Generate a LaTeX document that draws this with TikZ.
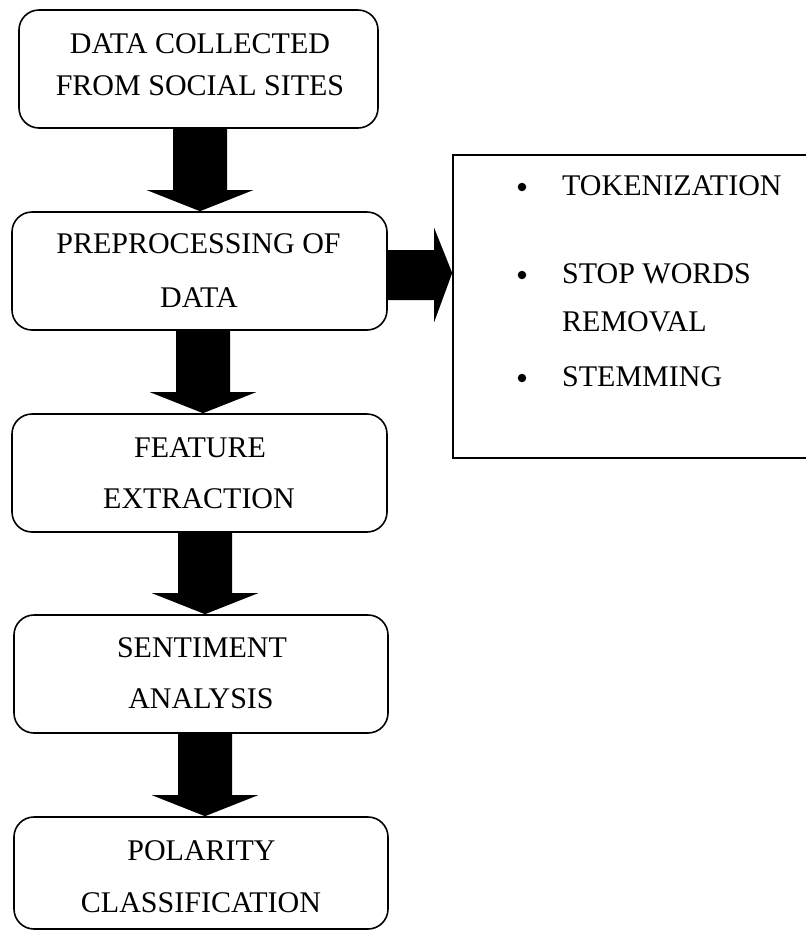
\documentclass[tikz,border=0pt]{standalone}
\usepackage{fontspec}
\setmainfont{Liberation Serif}
\usetikzlibrary{calc}
\tikzset{
  flowbox/.style={draw=black, line width=1.6pt, rounded corners=20pt, fill=white, inner sep=0pt},
  listbox/.style={draw=black, line width=1.6pt, fill=white, inner sep=0pt},
  boxtext/.style={anchor=base, inner sep=0pt, font=\fontsize{30pt}{36pt}\selectfont},
  listtext/.style={anchor=base west, inner sep=0pt, font=\fontsize{30pt}{36pt}\selectfont},
  dot/.style={circle, fill=black, inner sep=0pt, minimum size=8.5pt},
  fatarrow/.style={fill=black}
}
\newcommand\fatdown[3]{%
  \fill[fatarrow] let \p1=(#1.south), \p2=(#2.north) in
    (#3-27pt,\y1) -- (#3+27pt,\y1) -- (#3+27pt,\y2+21pt) -- (#3+53pt,\y2+21pt)
    -- (#3,\y2) -- (#3-53pt,\y2+21pt) -- (#3-27pt,\y2+21pt) -- cycle;}
\begin{document}
\begin{tikzpicture}[x=1pt,y=-1pt]
\clip (0,0) rectangle (806,930);
\fill[white] (0,0) rectangle (806,930);

% flow boxes
\node[flowbox, minimum width=359pt, minimum height=118pt] (b1) at (198.5,69) {};
\node[flowbox, minimum width=375pt, minimum height=118pt] (b2) at (199.5,271) {};
\node[flowbox, minimum width=375pt, minimum height=118pt] (b3) at (199.5,473) {};
\node[flowbox, minimum width=374pt, minimum height=118pt] (b4) at (201,674) {};
\node[flowbox, minimum width=374pt, minimum height=112pt] (b5) at (201,873) {};

% list box (right edge runs off the page)
\node[listbox, minimum width=380pt, minimum height=303pt] (r) at (643,306.5) {};

% texts
\node[boxtext] (t1a) at (200,53) {DATA COLLECTED};
\node[boxtext] (t1b) at (200,95) {FROM SOCIAL SITES};
\node[boxtext] (t2a) at (198.5,253) {PREPROCESSING OF};
\node[boxtext] (t2b) at (199,307) {DATA};
\node[boxtext] (t3a) at (200,457) {FEATURE};
\node[boxtext] (t3b) at (199,508) {EXTRACTION};
\node[boxtext] (t4a) at (202,657) {SENTIMENT};
\node[boxtext] (t4b) at (201,708) {ANALYSIS};
\node[boxtext] (t5a) at (201.5,860) {POLARITY};
\node[boxtext] (t5b) at (201,912) {CLASSIFICATION};

% list
\node[dot] (d1) at (522,187) {};
\node[listtext] (l1) at (562,195) {TOKENIZATION};
\node[dot] (d2) at (522,275) {};
\node[listtext] (l2) at (562,283) {STOP WORDS};
\node[listtext] (l2b) at (562,331) {REMOVAL};
\node[dot] (d3) at (522,378) {};
\node[listtext] (l3) at (562,386) {STEMMING};

% down arrows
\fatdown{b1}{b2}{200pt}
\fatdown{b2}{b3}{203pt}
\fatdown{b3}{b4}{205pt}
\fatdown{b4}{b5}{205pt}

% right arrow
\fill[fatarrow] let \p1=(b2.east), \p2=(r.west) in
  (\x1,-250pt) -- (\x2-18pt,-250pt) -- (\x2-18pt,-228pt) -- (\x2,-273pt)
  -- (\x2-18pt,-322pt) -- (\x2-18pt,-300pt) -- (\x1,-300pt) -- cycle;
\end{tikzpicture}
\end{document}
